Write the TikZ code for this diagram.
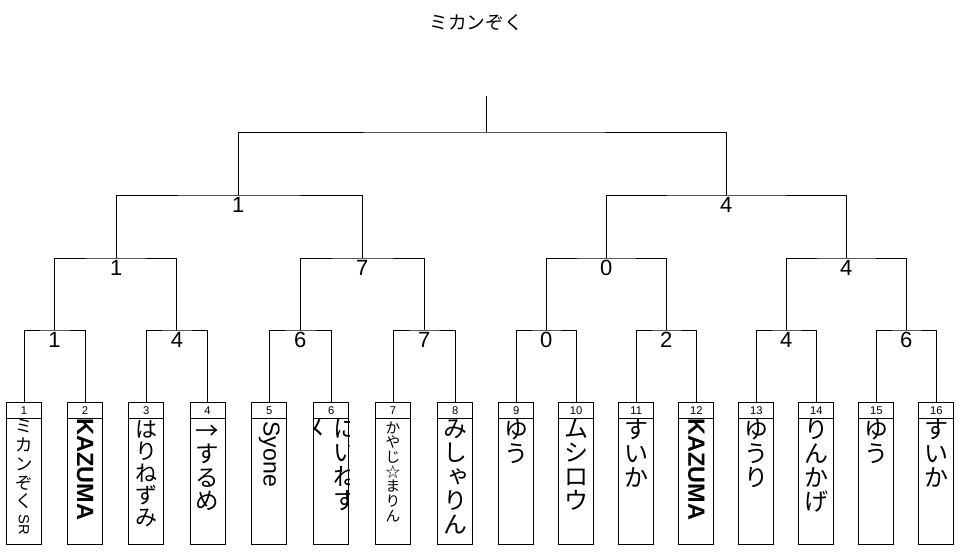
\documentclass[tikz,border=0pt]{standalone}
\usepackage{fontspec}
\setmainfont{Liberation Sans}
\newfontfamily\cjk{Noto Sans CJK JP}
\newfontfamily\cjkv[RawFeature=+vert]{Noto Sans CJK JP}
\begin{document}
\begin{tikzpicture}[x=0.75pt,y=-0.75pt,line width=0.75pt,
  hd/.style={draw,minimum width=26.25pt,minimum height=12pt,inner sep=0pt,anchor=north,font=\fontsize{8.4}{8.4}\selectfont},
  bd/.style={draw,minimum width=26.25pt,minimum height=94.5pt,inner sep=0pt,anchor=north},
  sc/.style={inner sep=0pt,anchor=north,yshift=-1.4pt,font=\fontsize{16.5}{16.5}\selectfont},
  jv/.style={inner sep=0pt,anchor=north,align=center,font=\cjk\fontsize{#1}{#1}\selectfont},
  lv/.style={inner sep=0pt,anchor=west,rotate=-90,font=\fontsize{#1}{#1}\selectfont},
  lvb/.style={inner sep=0pt,anchor=west,rotate=-90,font=\bfseries\fontsize{#1}{#1}\selectfont}]
\useasboundingbox (0,0) rectangle (963,553);
\fill[white] (0,0) rectangle (963,553);
% title
\node[inner sep=0pt,font=\cjk\fontsize{14}{14}\selectfont] (title) at (476,23) {ミカンぞく};
% boxes
\foreach \i/\x in {1/24,2/85,3/146.3,4/207.5,5/269.3,6/331.2,7/393,8/455.3,9/516.3,10/576.2,11/636.3,12/696.3,13/756.3,14/816.3,15/876.3,16/936.3}{
  \node[hd] (h\i) at (\x,402) {\i};
  \node[bd] (b\i) at (\x,418) {};
}
% box texts
\node[jv=13,font=\cjk\fontsize{13}{14.1}\selectfont] (t1) at (24,419) {ミ\\カ\\ン\\ぞ\\く};
\node[lv=11] (t1b) at (24,514) {SR};
\node[lvb=17.6] (t2) at (85,418) {KAZUMA};
\node[jv=16.5] (t3) at (146.3,420) {は\\り\\ね\\ず\\み};
\node[inner sep=0pt,anchor=base,text height=0.5em,text depth=0pt,font=\cjk\fontsize{17.6}{17.6}\selectfont] (t4a) at (207.5,439) {→};
\node[jv=17.6] (t4) at (207.5,443.5) {す\\る\\め};
\node[lv=17.3] (t5) at (269.3,421) {Syone};
\begin{scope}
  \clip (b6.north west) rectangle (b6.south east);
  \node[jv=18] (t6) at (345,419) {に\\い\\ね\\す};
  \node[jv=18] (t6b) at (313.5,419) {メ};
\end{scope}
\node[jv=11] (t7) at (393,421) {か\\や\\じ\\☆\\ま\\り\\ん};
\node[jv=18,font=\cjkv\fontsize{18}{18}\selectfont] (t8) at (455.3,419) {み\\し\\ゃ\\り\\ん};
\node[jv=18] (t9) at (516.3,419) {ゆ\\う};
\node[jv=18] (t10) at (576.2,419) {ム\\シ\\ロ\\ウ};
\node[jv=18] (t11) at (636.3,419) {す\\い\\か};
\node[lvb=17.6] (t12) at (696.3,418) {KAZUMA};
\node[jv=18] (t13) at (756.3,419) {ゆ\\う\\り};
\node[jv=18] (t14) at (816.3,419) {り\\ん\\か\\げ};
\node[jv=18] (t15) at (876.3,419) {ゆ\\う};
\node[jv=18] (t16) at (936.3,419) {す\\い\\か};
% junctions
\coordinate (m1) at (54.5,330);  \coordinate (m2) at (176.9,330);
\coordinate (m3) at (300.3,330); \coordinate (m4) at (424.2,330);
\coordinate (m5) at (546.3,330); \coordinate (m6) at (666.3,330);
\coordinate (m7) at (786.3,330); \coordinate (m8) at (906.3,330);
\coordinate (n1) at (116.3,258); \coordinate (n2) at (362.3,258);
\coordinate (n3) at (606.3,258); \coordinate (n4) at (846.3,258);
\coordinate (p1) at (238.3,195); \coordinate (p2) at (726.3,195);
\coordinate (t0) at (486.3,132); \coordinate (top) at (486.3,96);
% connectors
\draw (h1.north) |- (m1) -| (h2.north);
\draw (h3.north) |- (m2) -| (h4.north);
\draw (h5.north) |- (m3) -| (h6.north);
\draw (h7.north) |- (m4) -| (h8.north);
\draw (h9.north) |- (m5) -| (h10.north);
\draw (h11.north) |- (m6) -| (h12.north);
\draw (h13.north) |- (m7) -| (h14.north);
\draw (h15.north) |- (m8) -| (h16.north);
\draw (m1) |- (n1) -| (m2);
\draw (m3) |- (n2) -| (m4);
\draw (m5) |- (n3) -| (m6);
\draw (m7) |- (n4) -| (m8);
\draw (n1) |- (p1) -| (n2);
\draw (n3) |- (p2) -| (n4);
\draw (p1) |- (t0) -| (p2);
\draw (t0) -- (top);
% scores
\foreach \c/\v in {m1/1,m2/4,m3/6,m4/7,m5/0,m6/2,m7/4,m8/6,n1/1,n2/7,n3/0,n4/4,p1/1,p2/4}{
  \node[sc] (s\c) at (\c) {\v};
}
\end{tikzpicture}
\end{document}
